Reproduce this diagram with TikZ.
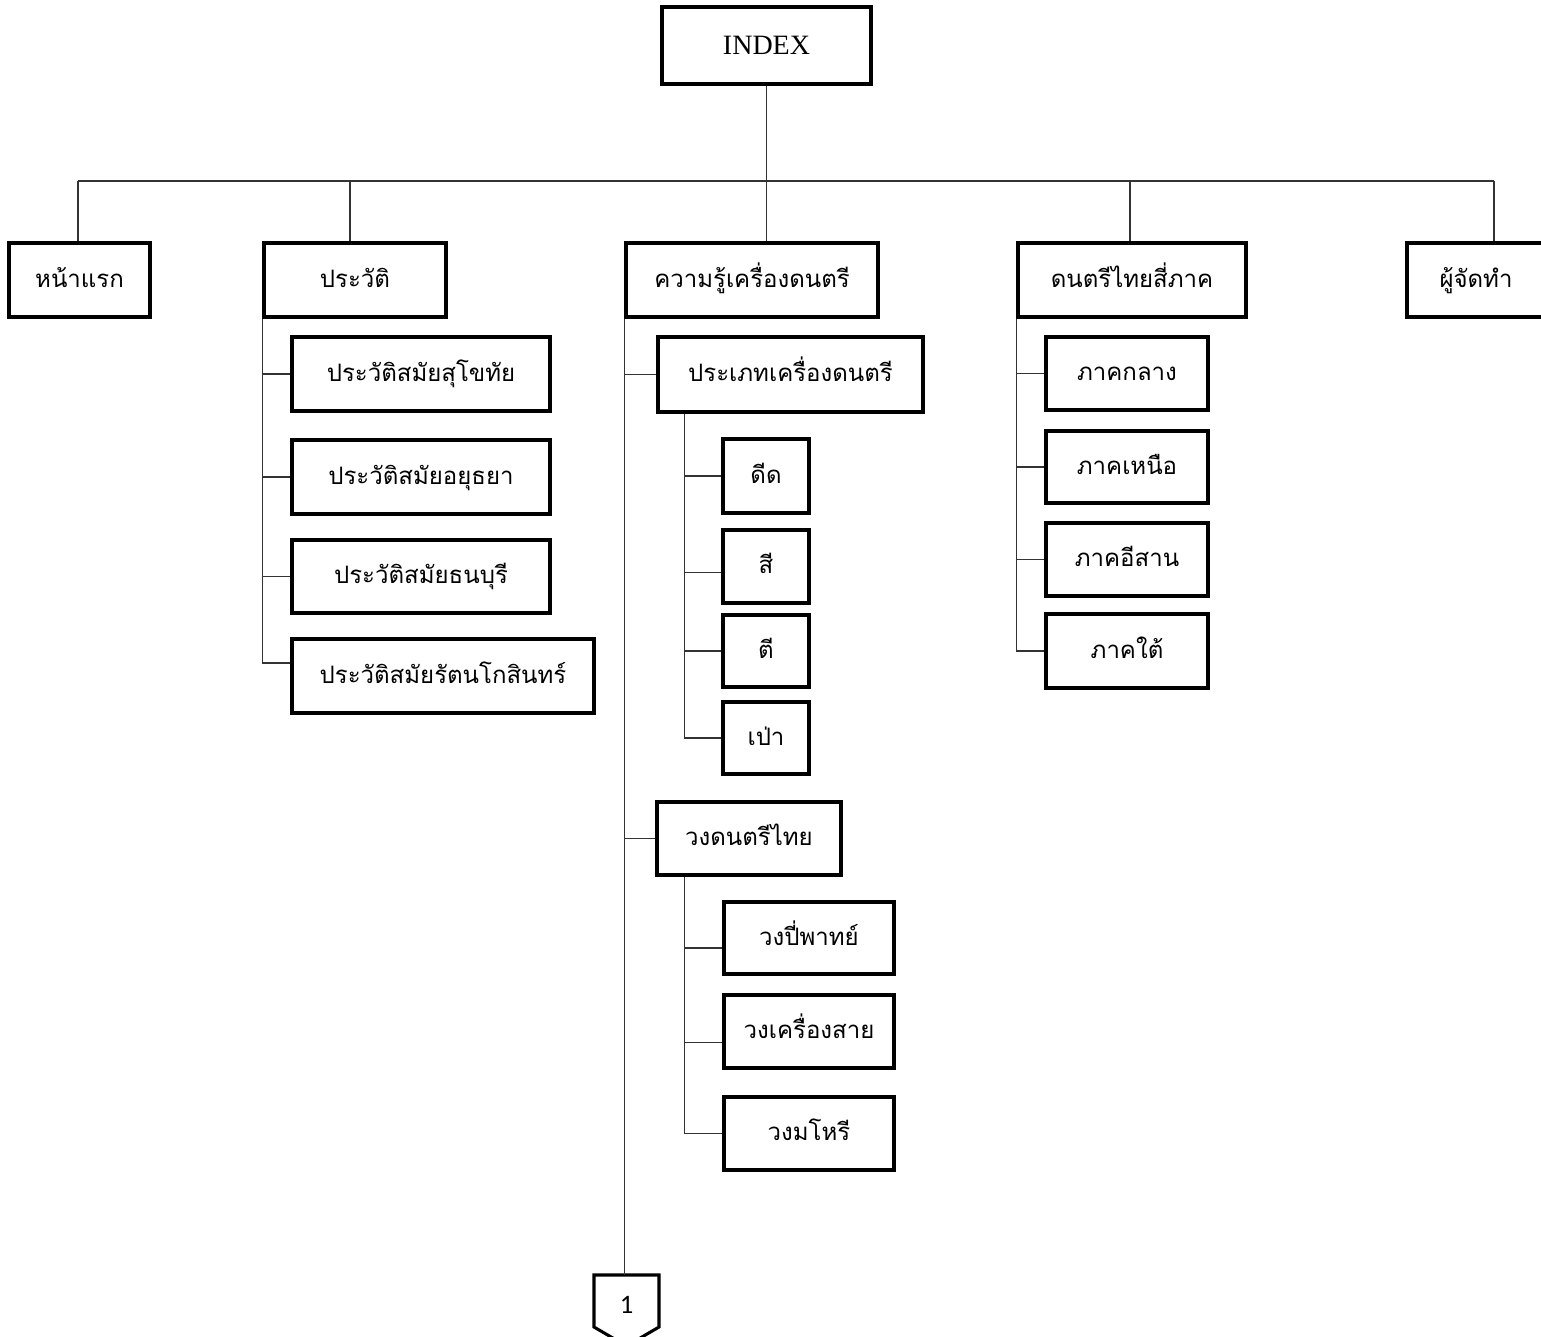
\documentclass[tikz,border=0pt]{standalone}
\usepackage{fontspec}
\setmainfont{Liberation Serif}
\newfontfamily\thaifont[Script=Thai]{Loma}
\newfontfamily\numfont{Carlito}
\usetikzlibrary{calc}
\tikzset{
 bx/.style={draw=black, line width=2.3pt, inner sep=0pt, text=black, text height=1.1em, text depth=0.02em, font=\thaifont\fontsize{18}{21}\selectfont},
 frame/.style={draw=black, line width=2.3pt},
 conn/.style={draw=black!80, line width=1pt},
}
\newcommand\placebox[6]{%
 \pgfmathsetmacro\boxWd{(#4-#2)*0.75}%
 \pgfmathsetmacro\boxHt{(#5-#3)*0.75}%
 \node[bx, minimum width=\boxWd pt, minimum height=\boxHt pt] (#1) at ({(#2+#4)/2},{(#3+#5)/2}) {#6};%
}
\begin{document}
\begin{tikzpicture}[x=0.75pt,y=-0.75pt]
\useasboundingbox (0,0) rectangle (1541,1336);
\fill[white] (0,0) rectangle (1541,1336);
% top
\node[frame, inner sep=0pt, minimum width=156.75pt, minimum height=57.75pt, font=\fontsize{21}{25}\selectfont] (index) at (766.5,45.5) {INDEX};
\placebox{home}{9}{243}{150}{317}{หน้าแรก}
\placebox{hist}{264}{243}{446}{317}{ประวัติ}
\placebox{know}{626}{243}{878}{317}{ความรู้เครื่องดนตรี}
\placebox{reg}{1018}{243}{1246}{317}{ดนตรีไทยสี่ภาค}
\placebox{auth}{1407}{243}{1545}{317}{ผู้จัดทำ}
% history
\placebox{h1}{292}{337}{550}{411}{ประวัติสมัยสุโขทัย}
\placebox{h2}{292}{440}{550}{514}{ประวัติสมัยอยุธยา}
\placebox{h3}{292}{540}{550}{613}{ประวัติสมัยธนบุรี}
\placebox{h4}{292}{639}{594}{713}{ประวัติสมัยรัตนโกสินทร์}
% knowledge
\placebox{type}{658}{337}{923}{412}{ประเภทเครื่องดนตรี}
\placebox{t1}{723}{439}{809}{513}{ดีด}
\placebox{t2}{723}{530}{809}{603}{สี}
\placebox{t3}{723}{615}{809}{687}{ตี}
\placebox{t4}{723}{702}{809}{774}{เป่า}
\placebox{band}{657}{802}{841}{875}{วงดนตรีไทย}
\placebox{w1}{724}{902}{894}{974}{วงปี่พาทย์}
\placebox{w2}{724}{995}{894}{1068}{วงเครื่องสาย}
\placebox{w3}{724}{1097}{894}{1170}{วงมโหรี}
% regions
\placebox{r1}{1046}{337}{1208}{410}{ภาคกลาง}
\placebox{r2}{1046}{431}{1208}{503}{ภาคเหนือ}
\placebox{r3}{1046}{523}{1208}{596}{ภาคอีสาน}
\placebox{r4}{1046}{614}{1208}{688}{ภาคใต้}
% off-page connector
\draw[frame] (594,1275) -- (659,1275) -- (659,1327) -- (626.5,1346) -- (594,1327) -- cycle;
\node[inner sep=0pt, font=\numfont\fontsize{20}{24}\selectfont] (c1) at (626.5,1305) {1};
\coordinate (c1top) at (626.5,1275);
% bus
\coordinate (bus1) at (78,181);
\coordinate (bus2) at (350,181);
\coordinate (bus4) at (1130,181);
\coordinate (bus5) at (1494,181);
\coordinate (bus3) at (index.south |- bus1);
\draw[conn] (index.south) -- (index.south |- know.north);
\draw[conn] (bus1) -- (bus5);
\draw[conn] (bus1) -- (bus1 |- home.north);
\draw[conn] (bus2) -- (bus2 |- hist.north);
\draw[conn] (bus4) -- (bus4 |- reg.north);
\draw[conn] (bus5) -- (bus5 |- auth.north);
% history branches
\draw[conn] (hist.south west) |- (h1.west);
\draw[conn] (hist.south west) |- (h2.west);
\draw[conn] (hist.south west) |- (h3.west);
\draw[conn] (hist.south west) |- ([yshift=9.75pt]h4.west);
% knowledge branches
\draw[conn] (know.south west) -- (know.south west |- c1top);
\draw[conn] (know.south west) |- (type.west);
\draw[conn] (know.south west) |- (band.west);
\coordinate (tv) at ($(type.south west)+(28,0)$);
\draw[conn] (tv) |- (t1.west);
\draw[conn] (tv) |- ([yshift=-4.5pt]t2.west);
\draw[conn] (tv) |- (t3.west);
\draw[conn] (tv) |- (t4.west);
\coordinate (bv) at ($(band.south west)+(29,0)$);
\draw[conn] (bv) |- ([yshift=-7.5pt]w1.west);
\draw[conn] (bv) |- ([yshift=-8.25pt]w2.west);
\draw[conn] (bv) |- (w3.west);
% region branches
\draw[conn] (reg.south west) |- (r1.west);
\draw[conn] (reg.south west) |- (r2.west);
\draw[conn] (reg.south west) |- (r3.west);
\draw[conn] (reg.south west) |- (r4.west);
\end{tikzpicture}
\end{document}
